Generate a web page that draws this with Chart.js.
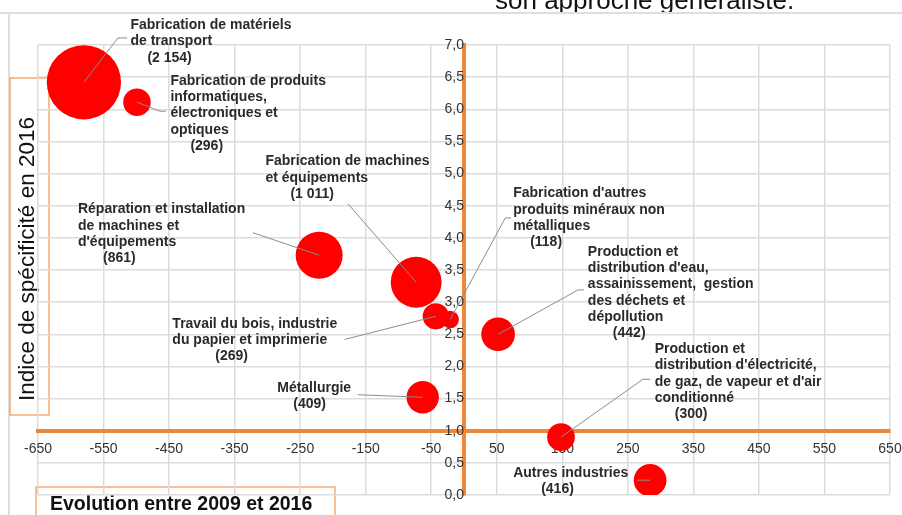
<!DOCTYPE html>
<html lang="fr">
<head>
<meta charset="utf-8">
<title>Indice de spécificité et évolution 2009-2016</title>
<script src="https://cdn.jsdelivr.net/npm/chart.js@4.4.1/dist/chart.umd.min.js"></script>
<style>
  html, body { margin: 0; padding: 0; background: #fff; }
  #cadre { position: relative; width: 902px; height: 515px; }
</style>
</head>
<body>
<div id="cadre"><canvas id="secteurs"></canvas></div>
<script>
// Secteurs industriels : évolution des effectifs 2009-2016 (x), indice de spécificité 2016 (y)
const secteurs = [
  'Fabrication de matériels de transport',
  'Fabrication de produits informatiques, électroniques et optiques',
  'Réparation et installation de machines et d\'équipements',
  'Fabrication de machines et équipements',
  'Travail du bois, industrie du papier et imprimerie',
  'Fabrication d\'autres produits minéraux non métalliques',
  'Production et distribution d\'eau, assainissement, gestion des déchets et dépollution',
  'Métallurgie',
  'Production et distribution d\'électricité, de gaz, de vapeur et d\'air conditionné',
  'Autres industries'
];
const evolution = [-580, -499, -221, -73, -43, -21, 52, -63, 148, 284];
const indice = [6.42, 6.11, 3.73, 3.31, 2.78, 2.73, 2.5, 1.52, 0.9, 0.23];
const effectifs = [2154, 296, 861, 1011, 269, 118, 442, 409, 300, 416];

const ticksX = { min: -650, max: 650, pas: 100 };
const ticksY = { min: 0, max: 7, pas: 0.5 };

const ORANGE = '#f0863a';
const police = '"Liberation Sans", Arial, sans-serif';

// Étiquettes : texte, ancrage (coordonnées des axes), retrait de l'effectif, trait de rappel
const etiquettes = [
  { i: 0, lignes: ['Fabrication de matériels', 'de transport'], ax: -509, ay: 7.31, retrait: 17,
    trait: [[-528, 7.11], [-514, 7.11]] },
  { i: 1, lignes: ['Fabrication de produits', 'informatiques,', 'électroniques et', 'optiques'], ax: -448, ay: 6.44, retrait: 20,
    trait: [[-464, 5.97], [-455, 5.97]] },
  { i: 2, lignes: ['Réparation et installation', 'de machines et', 'd\'équipements'], ax: -589, ay: 4.44, retrait: 25,
    trait: [[-322, 4.08]] },
  { i: 3, lignes: ['Fabrication de machines', 'et équipements'], ax: -303, ay: 5.19, retrait: 25,
    trait: [[-177, 4.53]] },
  { i: 4, lignes: ['Travail du bois, industrie', 'du papier et imprimerie'], ax: -445, ay: 2.66, retrait: 43,
    trait: [[-182, 2.42]] },
  { i: 5, lignes: ['Fabrication d\'autres', 'produits minéraux non', 'métalliques'], ax: 75, ay: 4.69, retrait: 17,
    trait: [[63, 4.31], [72, 4.31]] },
  { i: 6, lignes: ['Production et', 'distribution d\'eau,', 'assainissement,  gestion', 'des déchets et', 'dépollution'], ax: 189, ay: 3.78, retrait: 25,
    trait: [[174, 3.19], [183, 3.19]] },
  { i: 7, lignes: ['Métallurgie'], ax: -285, ay: 1.66, retrait: 16,
    trait: [[-162, 1.56]] },
  { i: 8, lignes: ['Production et', 'distribution d\'électricité,', 'de gaz, de vapeur et d\'air', 'conditionné'], ax: 291, ay: 2.27, retrait: 20,
    trait: [[273, 1.8], [284, 1.8]] },
  { i: 9, lignes: ['Autres industries'], ax: 75, ay: 0.34, retrait: 28,
    trait: [[264, 0.23]] }
];

function formatEffectif(n) {
  const s = String(n);
  return s.length > 3 ? s.slice(0, s.length - 3) + ' ' + s.slice(-3) : s;
}

// Cadre, encadrés des titres d'axes et phrase du texte courant (derrière le graphique)
const decor = {
  id: 'decor',
  beforeDraw(chart) {
    const c = chart.ctx;
    c.save();
    c.fillStyle = '#111';
    c.font = '26px ' + police;
    c.textBaseline = 'alphabetic';
    c.fillText('son approche généraliste.', 495, 9);

    c.strokeStyle = '#dedede';
    c.lineWidth = 2;
    c.beginPath();
    c.moveTo(0, 13); c.lineTo(902, 13);
    c.moveTo(9, 13); c.lineTo(9, 515);
    c.stroke();

    c.strokeStyle = '#f6ab74';
    c.lineWidth = 1.5;
    c.strokeRect(10, 78, 39, 337);
    c.strokeRect(36, 487, 299, 40);

    c.fillStyle = '#111';
    c.font = '22.5px ' + police;
    c.textAlign = 'center';
    c.textBaseline = 'middle';
    c.save();
    c.translate(28, 259);
    c.rotate(-Math.PI / 2);
    c.fillText('Indice de spécificité en 2016', 0, 0);
    c.restore();

    c.font = 'bold 19.5px ' + police;
    c.textAlign = 'left';
    c.fillText('Evolution entre 2009 et 2016', 50, 505);
    c.restore();
  }
};

// Noms des secteurs, effectifs entre parenthèses et traits de rappel
const legendesBulles = {
  id: 'legendesBulles',
  afterDatasetsDraw(chart) {
    const c = chart.ctx;
    const sx = chart.scales.x, sy = chart.scales.y;
    c.save();
    c.strokeStyle = '#8c8c8c';
    c.lineWidth = 1;
    etiquettes.forEach(e => {
      c.beginPath();
      c.moveTo(sx.getPixelForValue(evolution[e.i]), sy.getPixelForValue(indice[e.i]));
      e.trait.forEach(p => c.lineTo(sx.getPixelForValue(p[0]), sy.getPixelForValue(p[1])));
      c.stroke();
    });
    c.fillStyle = '#2a2a2a';
    c.font = 'bold 14px ' + police;
    c.textBaseline = 'middle';
    c.textAlign = 'left';
    etiquettes.forEach(e => {
      const x = sx.getPixelForValue(e.ax);
      const y = sy.getPixelForValue(e.ay);
      e.lignes.forEach((l, k) => c.fillText(l, x, y + k * 16.3));
      c.fillText('(' + formatEffectif(effectifs[e.i]) + ')', x + e.retrait, y + e.lignes.length * 16.3);
    });
    c.restore();
  }
};

Chart.defaults.font.family = police;

new Chart(document.getElementById('secteurs'), {
  type: 'bubble',
  data: {
    labels: secteurs,
    datasets: [{
      data: evolution.map((x, i) => ({ x: x, y: indice[i], r: 0.8 * Math.sqrt(effectifs[i]) })),
      backgroundColor: '#ff0000',
      borderWidth: 0
    }]
  },
  options: {
    responsive: true,
    maintainAspectRatio: false,
    animation: false,
    layout: { autoPadding: false, padding: { left: 38, right: 12, top: 45, bottom: 20 } },
    plugins: { legend: { display: false }, tooltip: { enabled: false } },
    scales: {
      x: {
        type: 'linear',
        position: { y: 1 },
        min: ticksX.min, max: ticksX.max,
        ticks: { stepSize: ticksX.pas, color: '#333', font: { size: 14 }, padding: 10, maxRotation: 0, autoSkip: false },
        grid: { color: '#dcdcdc', lineWidth: 1.5, drawTicks: false },
        border: { color: ORANGE, width: 4 },
        // les étiquettes des extrémités débordent sans réduire la zone de tracé
        afterFit: s => { s.paddingLeft = 0; s.paddingRight = 0; }
      },
      y: {
        type: 'linear',
        position: { x: 0 },
        min: ticksY.min, max: ticksY.max,
        ticks: {
          stepSize: ticksY.pas, color: '#333', font: { size: 14 }, padding: 10, autoSkip: false,
          callback: v => v.toFixed(1).replace('.', ',')
        },
        grid: { color: '#dcdcdc', lineWidth: 1.5, drawTicks: false },
        border: { color: ORANGE, width: 4 },
        afterFit: s => { s.paddingTop = 0; s.paddingBottom = 0; }
      }
    }
  },
  plugins: [decor, legendesBulles]
});
</script>
</body>
</html>
